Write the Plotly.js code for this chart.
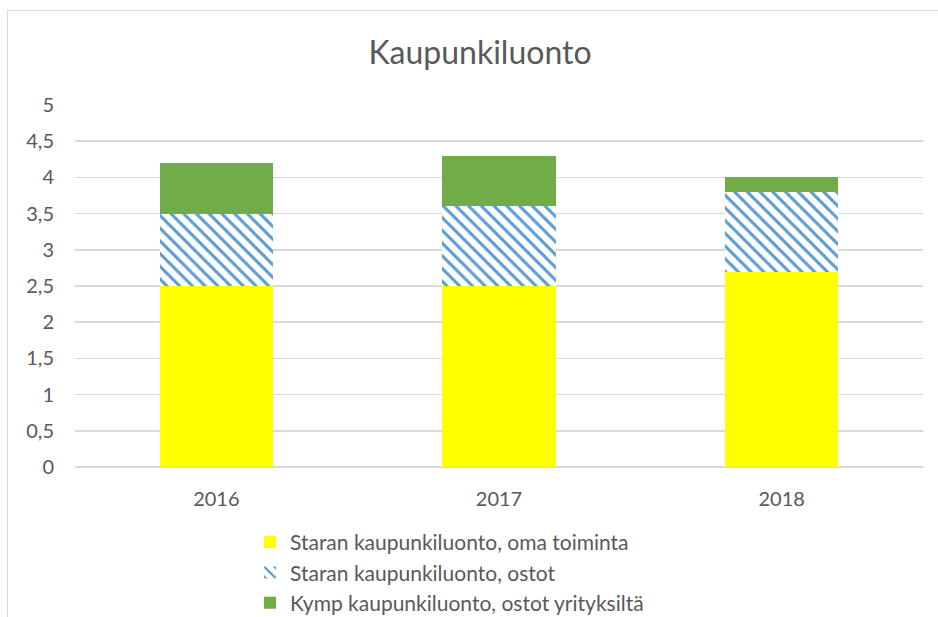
<!DOCTYPE html>
<html>
<head>
<meta charset="utf-8">
<script src="https://cdn.plot.ly/plotly-3.0.1.min.js"></script>
<style>
html,body{margin:0;padding:0;background:#fff;overflow:hidden;width:938px;height:617px;}
#frame{position:absolute;left:7px;top:10px;width:1200px;height:1200px;border:1.5px solid #d9d9d9;box-sizing:border-box;}
#chart{position:absolute;left:0;top:0;width:938px;height:617px;}
</style>
</head>
<body>
<div id="frame"></div>
<div id="chart"></div>
<script>
const years = ['2016', '2017', '2018'];
const omaToiminta = [2.5, 2.5, 2.7];
const ostot = [1.0, 1.1, 1.1];
const yrityksilta = [0.7, 0.7, 0.2];
const seriesNames = [
  'Staran kaupunkiluonto, oma toiminta',
  'Staran kaupunkiluonto, ostot',
  'Kymp kaupunkiluonto, ostot yrityksiltä'
];
const yTicks = [0, 0.5, 1, 1.5, 2, 2.5, 3, 3.5, 4, 4.5, 5];

const FONT = 'Lato, "Open Sans", sans-serif';
const GREY = '#595959';

const traces = [
  {type:'bar', name:seriesNames[0], x:years, y:omaToiminta,
   marker:{color:'#ffff00', line:{width:0}}},
  {type:'bar', name:seriesNames[1], x:years, y:ostot,
   marker:{color:'#ffffff', line:{width:0},
     pattern:{shape:'\\', fgcolor:'#5b9bd5', bgcolor:'#ffffff', size:9, solidity:0.33, fillmode:'replace'}}},
  {type:'bar', name:seriesNames[2], x:years, y:yrityksilta,
   marker:{color:'#70ad47', line:{width:0}}}
];

const layout = {
  width:938, height:617,
  barmode:'stack', bargap:0.6,
  separators:', ',
  paper_bgcolor:'rgba(0,0,0,0)', plot_bgcolor:'rgba(0,0,0,0)',
  margin:{l:75, r:15, t:105, b:150, autoexpand:false},
  font:{family:FONT, color:GREY, size:20},
  title:{text:'Kaupunkiluonto', font:{family:FONT, size:32, color:GREY},
         x:480/938, xanchor:'center', y:1-53/617, yanchor:'middle'},
  xaxis:{showgrid:false, zeroline:false, showline:false, ticks:'',
         tickfont:{size:20, color:GREY}, ticklabelstandoff:18},
  yaxis:{range:[0,5], tickvals:yTicks, showgrid:true, gridcolor:'#d9d9d9', gridwidth:1.5,
         zeroline:true, zerolinecolor:'#d9d9d9', zerolinewidth:1.5, showline:false, ticks:'',
         tickfont:{size:20, color:GREY}, ticklabelstandoff:20},
  showlegend:true,
  legend:{orientation:'v', xref:'container', yref:'container', x:250/938, xanchor:'left',
          y:1-522/617, yanchor:'top',
          font:{size:21, color:GREY}, traceorder:'normal', itemwidth:30, tracegroupgap:0,
          bgcolor:'rgba(0,0,0,0)'}
};

Plotly.newPlot('chart', traces, layout, {displayModeBar:false, staticPlot:true});
</script>
</body>
</html>
